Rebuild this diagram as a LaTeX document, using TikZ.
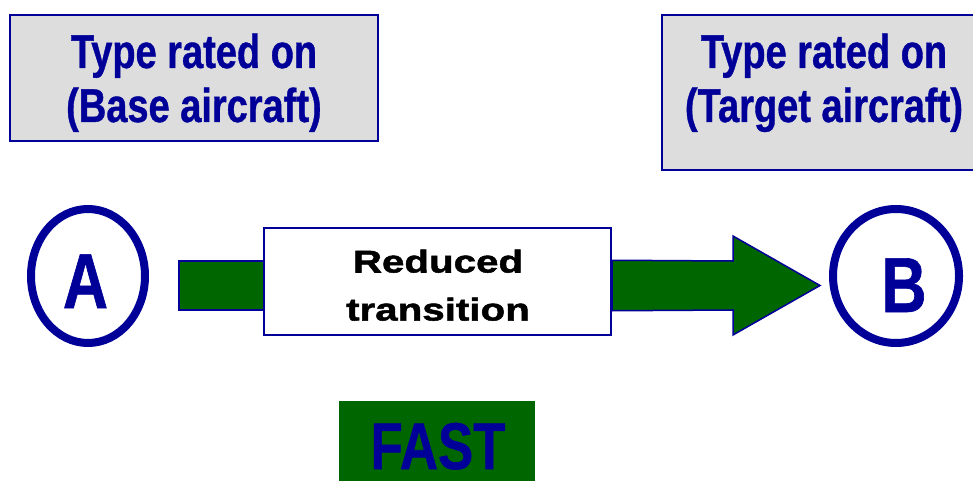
\documentclass[tikz,border=0pt]{standalone}
\usepackage{fontspec}
\setmainfont{Liberation Sans}
\newfontfamily\narrowfont{Liberation Sans}[FakeStretch=0.8,FakeBold=0.8]
\newfontfamily\widefont{Liberation Sans}[FakeStretch=1.28,FakeBold=1.6]
\usetikzlibrary{shapes.geometric}
\definecolor{dblue}{RGB}{0,0,153}
\definecolor{dgreen}{RGB}{0,102,0}
\definecolor{lgray}{RGB}{221,221,221}
\begin{document}
\begin{tikzpicture}[x=1pt,y=-1pt,
  titlebox/.style={draw=dblue,line width=2.5pt,fill=lgray,inner sep=0pt},
  titletext/.style={font=\narrowfont\bfseries\fontsize{47.5}{54}\selectfont,text=dblue,align=center,inner sep=0pt},
  ring/.style={ellipse,draw=dblue,line width=8pt,inner sep=0pt},
  letter/.style={font=\narrowfont\bfseries\fontsize{78}{78}\selectfont,text=dblue,inner sep=0pt},
  shaft/.style={fill=dgreen,draw=dblue,line width=1.5pt},
  midbox/.style={draw=dblue,line width=2pt,fill=white,inner sep=0pt},
  midtext/.style={font=\widefont\bfseries\fontsize{31.5}{48}\selectfont,align=center,inner sep=0pt},
  fastbox/.style={fill=dgreen,inner sep=0pt},
  fasttext/.style={font=\narrowfont\bfseries\fontsize{66}{66}\selectfont,text=dblue,inner sep=0pt}]
\useasboundingbox (0,0) rectangle (973,481);
% title boxes
\node[titlebox,minimum width=368pt,minimum height=126pt] (basebox) at (194,78) {};
\node[titletext,anchor=base] (basetext) at (194,122) {Type rated on\\(Base aircraft)};
\node[titlebox,minimum width=324pt,minimum height=155pt] (targetbox) at (824,92.5) {};
\node[titletext,anchor=base] (targettext) at (824,122) {Type rated on\\(Target aircraft)};
% rings
\node[ring,minimum width=114pt,minimum height=134pt] (ringA) at (88,276) {};
\node[letter,anchor=base] (letterA) at (85.5,308) {A};
\node[ring,minimum width=126pt,minimum height=134pt] (ringB) at (896,276) {};
\node[letter,anchor=base] (letterB) at (904,312) {B};
% arrow
\node[shaft,minimum width=85pt,minimum height=49pt,inner sep=0pt] (shaftL) at (221.5,285.5) {};
\node[midbox,minimum width=347pt,minimum height=107pt] (mid) at (437.5,281.5) {};
\node[midtext,anchor=base] (midtxt) at (438,320.5) {Reduced\\transition};
\coordinate (tip) at (820,285.5);
\draw[shaft] (mid.east |- shaftL.north) -- (733,261) -- (733,236) -- (tip)
  -- (733,335) -- (733,310) -- (mid.east |- shaftL.south) -- cycle;
% fast
\node[fastbox,minimum width=196pt,minimum height=89pt] (fastbox) at (437,445.5) {};
\node[fasttext,anchor=base] (fasttxt) at (438,469) {FAST};
\end{tikzpicture}
\end{document}
